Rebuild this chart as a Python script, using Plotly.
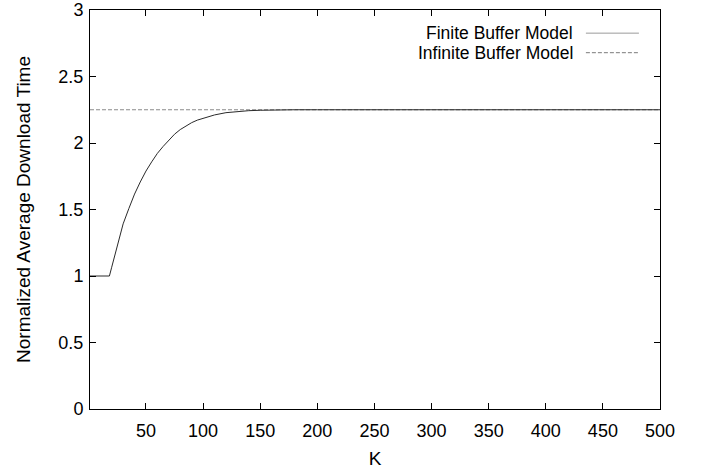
import plotly.graph_objects as go

# Buffer size K and normalized average download time (finite buffer model)
k_values = [1, 18, 20, 25, 30, 35, 40, 45, 50, 55, 60, 65, 70, 75, 80, 85, 90, 95,
            100, 110, 120, 130, 140, 150, 160, 180, 200, 250, 300, 350, 400, 450, 500]
finite_time = [1.0, 1.0, 1.066, 1.233, 1.392, 1.507, 1.616, 1.707, 1.789, 1.858,
               1.922, 1.974, 2.023, 2.066, 2.101, 2.130, 2.153, 2.172, 2.187, 2.211,
               2.228, 2.237, 2.243, 2.246, 2.248, 2.25, 2.25, 2.25, 2.25, 2.25, 2.25,
               2.25, 2.25]

# Infinite buffer model: constant level
infinite_k = [1, 500]
infinite_time = [2.25, 2.25]

x_ticks = [50, 100, 150, 200, 250, 300, 350, 400, 450, 500]
y_ticks = [0, 0.5, 1, 1.5, 2, 2.5, 3]
y_tick_text = ["0", "0.5", "1", "1.5", "2", "2.5", "3"]

FONT = "Liberation Sans, Arial, Helvetica, sans-serif"
DASH = "4px,2px"

fig = go.Figure()
fig.add_trace(go.Scatter(x=infinite_k, y=infinite_time, mode="lines",
                         name="Infinite Buffer Model",
                         line=dict(color="#8a8a8a", width=1, dash=DASH)))
fig.add_trace(go.Scatter(x=k_values, y=finite_time, mode="lines",
                         name="Finite Buffer Model",
                         line=dict(color="#2a2a2a", width=1)))

axis_common = dict(showline=True, linecolor="black", linewidth=1, mirror="ticks",
                   ticks="inside", ticklen=6, tickcolor="black", showgrid=False,
                   zeroline=False, ticklabeloverflow="allow", automargin=False,
                   tickfont=dict(family=FONT, size=18, color="black"))

fig.update_xaxes(range=[1, 500], tickvals=x_ticks, ticktext=[str(v) for v in x_ticks],
                 ticklabelstandoff=5,
                 title=dict(text="K", font=dict(family=FONT, size=19, color="black"),
                            standoff=12),
                 **axis_common)
fig.update_yaxes(range=[0, 3], tickvals=y_ticks, ticktext=y_tick_text,
                 ticklabelstandoff=2,
                 title=dict(text="Normalized Average Download Time",
                            font=dict(family=FONT, size=19, color="black"), standoff=22),
                 **axis_common)

# Legend in gnuplot style: label on the left, line sample on the right
legend_rows = [("Finite Buffer Model", "#9a9a9a", "solid", 0.942),
               ("Infinite Buffer Model", "#7a7a7a", DASH, 0.893)]
for label, color, dash, ypos in legend_rows:
    fig.add_annotation(x=0.847, y=ypos, xref="paper", yref="paper", text=label,
                       showarrow=False, xanchor="right", yanchor="middle", xshift=2,
                       font=dict(family=FONT, size=17.5, color="black"))
    fig.add_shape(type="line", xref="paper", yref="paper", x0=0.870, x1=0.963,
                  y0=ypos, y1=ypos, line=dict(color=color, width=1, dash=dash))

fig.update_layout(width=705, height=471, showlegend=False,
                  margin=dict(l=90, r=45, t=10, b=62),
                  plot_bgcolor="white", paper_bgcolor="white",
                  font=dict(family=FONT, size=18, color="black"))

fig.write_html("out.html")
